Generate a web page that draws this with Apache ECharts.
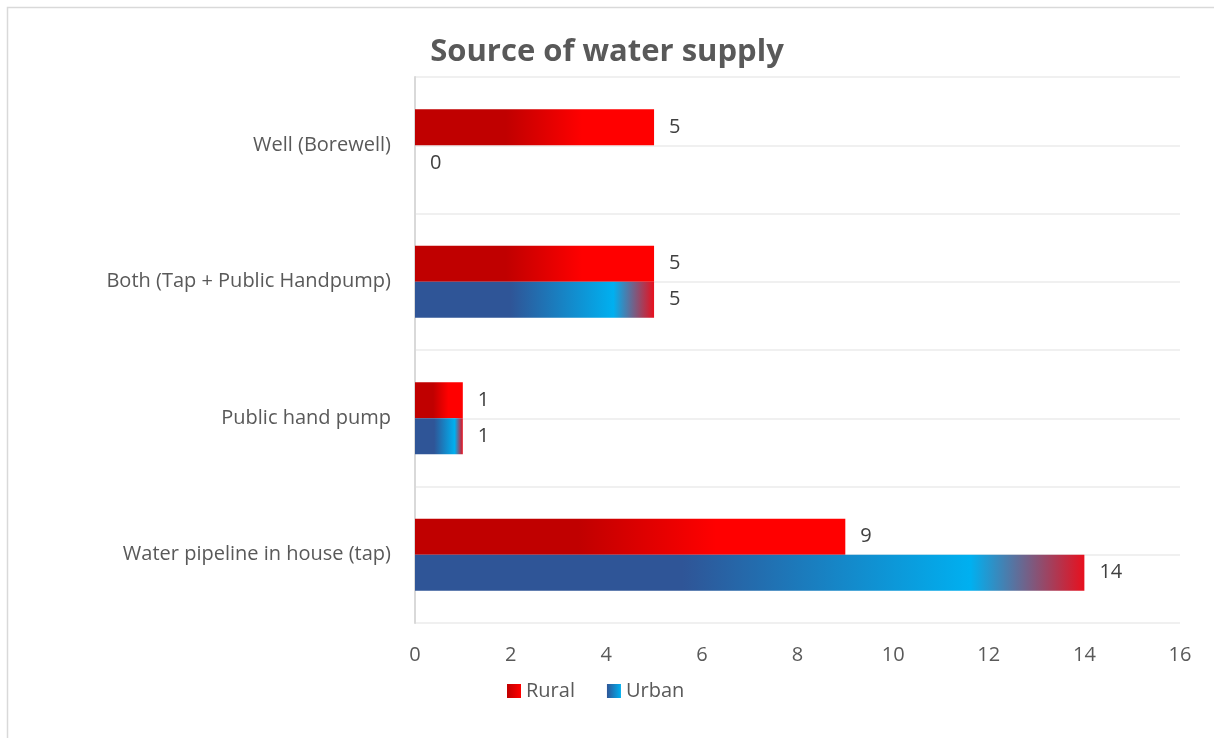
<!DOCTYPE html>
<html>
<head>
<meta charset="utf-8">
<style>
  html, body { margin: 0; padding: 0; background: #ffffff; }
  #chart { width: 1214px; height: 738px; }
</style>
<script src="https://cdn.jsdelivr.net/npm/echarts@6/dist/echarts.min.js"></script>
</head>
<body>
<div id="chart"></div>
<script>
// Categories listed bottom to top along the vertical axis
const categories = [
  'Water pipeline in house (tap)',
  'Public hand pump',
  'Both (Tap + Public Handpump)',
  'Well (Borewell)'
];
const rural = [9, 1, 5, 5];
const urban = [14, 1, 5, 0];
const xTicks = [0, 2, 4, 6, 8, 10, 12, 14, 16];

const FONT = '"Open Sans", "Liberation Sans", sans-serif';
const TEXT = '#595959';

function grad(stops) {
  return new echarts.graphic.LinearGradient(0, 0, 1, 0,
    stops.map(([offset, color]) => ({ offset, color })));
}

const ruralFill = grad([[0, '#c00000'], [0.38, '#c00000'], [0.7, '#ff0000'], [1, '#ff0000']]);
const urbanFill = grad([[0, '#2f5597'], [0.4, '#2f5597'], [0.83, '#00b0f0'], [1, '#e8101e']]);
const ruralIcon = grad([[0, '#c00000'], [1, '#ff0000']]);
const urbanIcon = grad([[0, '#2f5597'], [1, '#00b0f0']]);

const labelStyle = {
  show: true,
  position: 'right',
  distance: 15,
  color: '#404040',
  fontFamily: FONT,
  fontSize: 20
};

const chart = echarts.init(document.getElementById('chart'), null, { renderer: 'canvas' });
chart.setOption({
  backgroundColor: '#ffffff',
  animation: false,
  title: {
    text: 'Source of water supply',
    left: 'center',
    top: 32,
    textStyle: { fontFamily: FONT, fontSize: 31, fontWeight: 'bold', color: TEXT }
  },
  graphic: [{
    type: 'rect',
    shape: { x: 7.5, y: 7.5, width: 1220, height: 740 },
    style: { fill: 'none', stroke: '#d9d9d9', lineWidth: 1.5 },
    silent: true
  }],
  legend: {
    bottom: 32,
    left: 502,
    itemWidth: 14,
    itemHeight: 14,
    itemGap: 32,
    icon: 'rect',
    textStyle: { fontFamily: FONT, fontSize: 20, color: TEXT },
    data: [
      { name: 'Rural', itemStyle: { color: ruralIcon } },
      { name: 'Urban', itemStyle: { color: urbanIcon } }
    ]
  },
  grid: { left: 415, right: 34, top: 77, bottom: 115, containLabel: false },
  xAxis: {
    type: 'value',
    min: xTicks[0],
    max: xTicks[xTicks.length - 1],
    interval: 2,
    axisLine: { show: false },
    axisTick: { show: false },
    splitLine: { show: false },
    axisLabel: { fontFamily: FONT, fontSize: 20, color: TEXT, margin: 22 }
  },
  yAxis: [{
    type: 'category',
    data: categories,
    axisLine: { show: true, lineStyle: { color: '#d9d9d9', width: 2 } },
    axisTick: { show: false },
    splitLine: { show: false },
    axisLabel: { fontFamily: FONT, fontSize: 20, color: TEXT, margin: 24 }
  }, {
    // half-category guide lines across the plot
    type: 'value',
    min: 0,
    max: categories.length * 2,
    interval: 1,
    position: 'left',
    axisLine: { show: false },
    axisTick: { show: false },
    axisLabel: { show: false },
    splitLine: { show: true, lineStyle: { color: '#f0f0f0', width: 2 } }
  }],
  series: [{
    name: 'Rural',
    type: 'bar',
    yAxisIndex: 0,
    data: rural,
    barWidth: 36,
    barGap: '0%',
    itemStyle: { color: ruralFill },
    label: labelStyle,
    z: 3
  }, {
    name: 'Urban',
    type: 'bar',
    yAxisIndex: 0,
    data: urban,
    barWidth: 36,
    barGap: '0%',
    itemStyle: { color: urbanFill },
    label: labelStyle,
    z: 3
  }]
});
</script>
</body>
</html>
